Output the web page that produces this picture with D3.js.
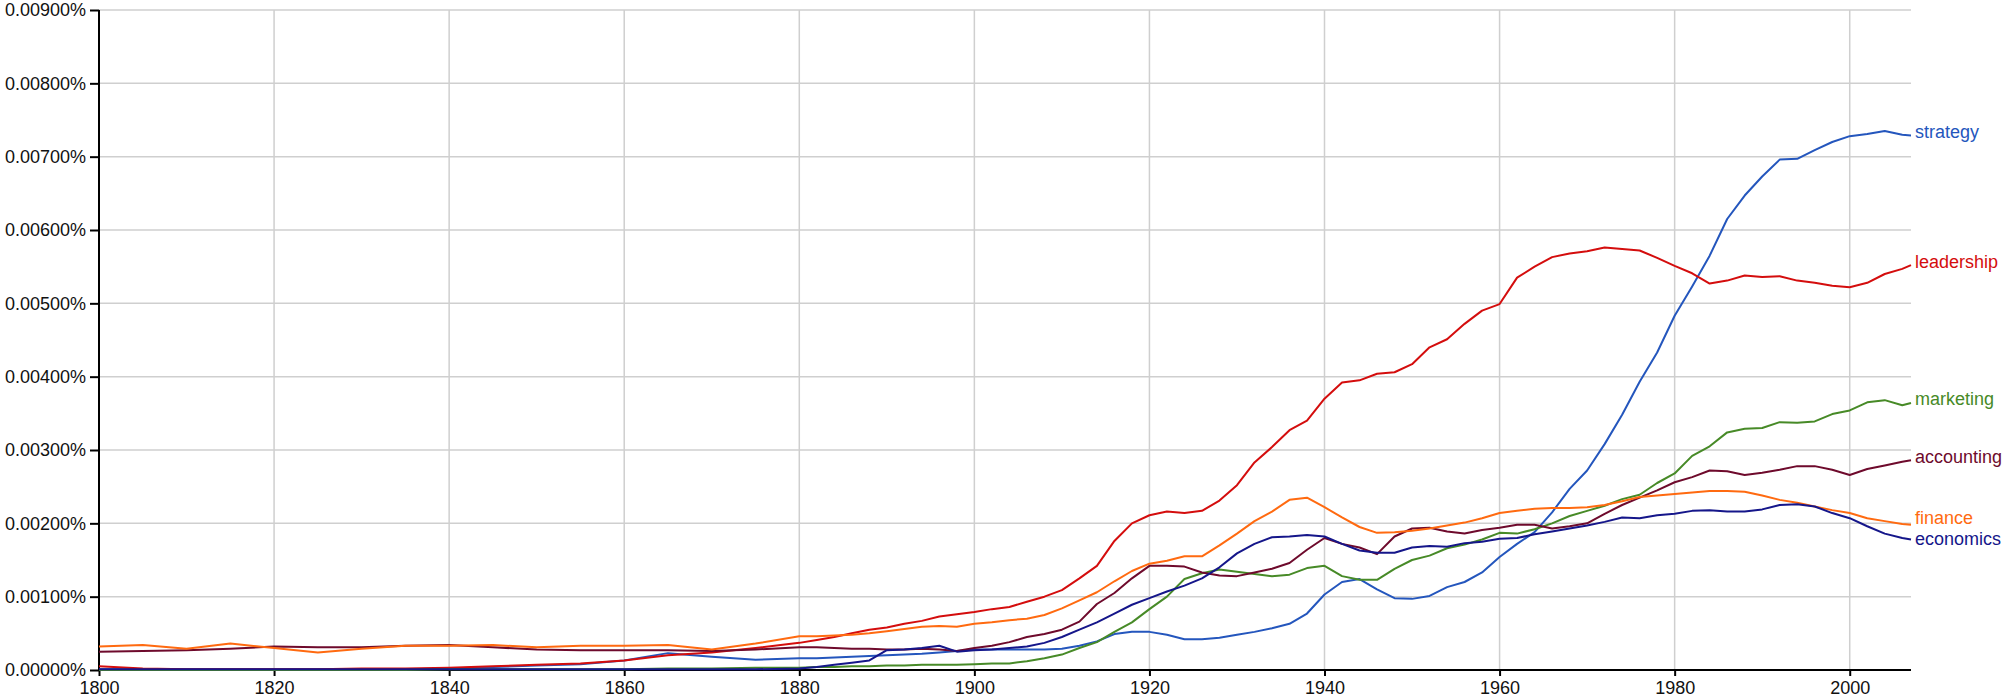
<!DOCTYPE html>
<html>
<head>
<meta charset="utf-8">
<script src="https://d3js.org/d3.v7.min.js"></script>
<style>
    body { margin: 0; background: #fff; }
    text { font-family: "Liberation Sans", Arial, Helvetica, sans-serif; }
</style>
</head>
<body>
<div id="main"></div>
<script>
main = "#main"

// values are in thousandths of a percent (1.00 = 0.00100%)
let years = [1800, 1805, 1810, 1815, 1820, 1825, 1830, 1835, 1840, 1845, 1850, 1855, 1860, 1865, 1870, 1875, 1880,
    1882, 1884, 1886, 1888, 1890, 1892, 1894, 1896, 1898, 1900, 1902, 1904, 1906, 1908, 1910, 1912, 1914, 1916, 1918,
    1920, 1922, 1924, 1926, 1928, 1930, 1932, 1934, 1936, 1938, 1940, 1942, 1944, 1946, 1948, 1950, 1952, 1954, 1956, 1958,
    1960, 1962, 1964, 1966, 1968, 1970, 1972, 1974, 1976, 1978, 1980, 1982, 1984, 1986, 1988, 1990, 1992, 1994, 1996, 1998,
    2000, 2002, 2004, 2006, 2007]

let strategy = [0.01, 0.01, 0.01, 0.01, 0.01, 0.01, 0.01, 0.01, 0.02, 0.04, 0.06, 0.08, 0.13, 0.23, 0.18, 0.14, 0.16,
    0.16, 0.17, 0.18, 0.19, 0.20, 0.21, 0.22, 0.24, 0.26, 0.28, 0.28, 0.28, 0.28, 0.28, 0.29, 0.33, 0.39, 0.49, 0.52,
    0.52, 0.48, 0.42, 0.42, 0.44, 0.48, 0.52, 0.57, 0.63, 0.77, 1.03, 1.20, 1.24, 1.10, 0.98, 0.97, 1.01, 1.13, 1.20, 1.33,
    1.54, 1.72, 1.88, 2.15, 2.47, 2.72, 3.08, 3.48, 3.93, 4.33, 4.83, 5.23, 5.65, 6.15, 6.47, 6.73, 6.96, 6.97, 7.09, 7.20,
    7.28, 7.31, 7.35, 7.30, 7.29]

let leadership = [0.05, 0.02, 0.01, 0.01, 0.01, 0.01, 0.02, 0.02, 0.03, 0.05, 0.07, 0.09, 0.13, 0.20, 0.24, 0.30, 0.37,
    0.41, 0.45, 0.50, 0.55, 0.58, 0.63, 0.67, 0.73, 0.76, 0.79, 0.83, 0.86, 0.93, 1.00, 1.09, 1.25, 1.42, 1.76, 2.00,
    2.11, 2.16, 2.14, 2.17, 2.31, 2.52, 2.83, 3.04, 3.27, 3.40, 3.70, 3.92, 3.95, 4.04, 4.06, 4.17, 4.40, 4.51, 4.72, 4.90,
    4.99, 5.35, 5.50, 5.63, 5.68, 5.71, 5.76, 5.74, 5.72, 5.62, 5.51, 5.41, 5.27, 5.31, 5.38, 5.36, 5.37, 5.31, 5.28, 5.24,
    5.22, 5.28, 5.40, 5.47, 5.52]

let marketing = [0.00, 0.00, 0.00, 0.00, 0.00, 0.00, 0.00, 0.00, 0.01, 0.01, 0.01, 0.01, 0.01, 0.02, 0.02, 0.03, 0.03,
    0.04, 0.04, 0.05, 0.05, 0.06, 0.06, 0.07, 0.07, 0.07, 0.08, 0.09, 0.09, 0.12, 0.16, 0.21, 0.30, 0.38, 0.52, 0.65,
    0.83, 1.00, 1.24, 1.32, 1.37, 1.34, 1.31, 1.28, 1.30, 1.39, 1.42, 1.28, 1.23, 1.23, 1.38, 1.50, 1.56, 1.66, 1.71, 1.78,
    1.87, 1.86, 1.92, 2.00, 2.10, 2.17, 2.24, 2.33, 2.39, 2.55, 2.68, 2.92, 3.05, 3.24, 3.29, 3.30, 3.38, 3.37, 3.39, 3.49,
    3.54, 3.65, 3.68, 3.61, 3.64]

let accounting = [0.25, 0.26, 0.27, 0.29, 0.32, 0.31, 0.31, 0.33, 0.34, 0.31, 0.28, 0.27, 0.27, 0.27, 0.26, 0.28, 0.31,
    0.31, 0.30, 0.29, 0.29, 0.28, 0.28, 0.29, 0.28, 0.26, 0.30, 0.33, 0.38, 0.45, 0.49, 0.55, 0.66, 0.90, 1.05, 1.25,
    1.42, 1.42, 1.41, 1.33, 1.29, 1.28, 1.33, 1.38, 1.46, 1.64, 1.80, 1.72, 1.67, 1.58, 1.82, 1.93, 1.94, 1.89, 1.86, 1.91,
    1.94, 1.98, 1.98, 1.93, 1.96, 2.00, 2.13, 2.25, 2.35, 2.45, 2.56, 2.63, 2.72, 2.71, 2.66, 2.69, 2.73, 2.78, 2.78, 2.73,
    2.66, 2.74, 2.79, 2.84, 2.86]

let finance = [0.32, 0.34, 0.29, 0.36, 0.30, 0.24, 0.29, 0.33, 0.33, 0.34, 0.31, 0.33, 0.33, 0.34, 0.28, 0.36, 0.46,
    0.46, 0.47, 0.48, 0.50, 0.53, 0.56, 0.59, 0.60, 0.59, 0.63, 0.65, 0.68, 0.70, 0.75, 0.84, 0.95, 1.06, 1.21, 1.35,
    1.45, 1.49, 1.55, 1.55, 1.70, 1.86, 2.03, 2.16, 2.32, 2.35, 2.22, 2.08, 1.95, 1.87, 1.88, 1.90, 1.93, 1.97, 2.01, 2.07,
    2.14, 2.17, 2.20, 2.21, 2.21, 2.22, 2.25, 2.30, 2.36, 2.38, 2.40, 2.42, 2.44, 2.44, 2.43, 2.38, 2.32, 2.28, 2.23, 2.18,
    2.14, 2.07, 2.03, 1.99, 1.98]

let economics = [0.01, 0.01, 0.01, 0.01, 0.01, 0.01, 0.01, 0.01, 0.01, 0.01, 0.01, 0.01, 0.01, 0.01, 0.01, 0.01, 0.02,
    0.04, 0.07, 0.10, 0.13, 0.27, 0.28, 0.30, 0.33, 0.25, 0.27, 0.28, 0.30, 0.32, 0.37, 0.45, 0.55, 0.65, 0.77, 0.89,
    0.98, 1.07, 1.15, 1.25, 1.40, 1.59, 1.72, 1.81, 1.82, 1.84, 1.82, 1.72, 1.63, 1.60, 1.60, 1.67, 1.69, 1.68, 1.73, 1.75,
    1.79, 1.80, 1.85, 1.89, 1.93, 1.97, 2.02, 2.08, 2.07, 2.11, 2.13, 2.17, 2.18, 2.16, 2.16, 2.19, 2.25, 2.26, 2.23, 2.14,
    2.07, 1.96, 1.86, 1.80, 1.78]

let seriesNames = ["strategy", "leadership", "marketing", "accounting", "finance", "economics"]
let seriesValues = [strategy, leadership, marketing, accounting, finance, economics]
let seriesColors = ["#2456bd", "#d40d0d", "#478a27", "#6e0a2c", "#ff6a10", "#15168a"]

let yTicks = [0, 1, 2, 3, 4, 5, 6, 7, 8, 9]
let xTicks = [1800, 1820, 1840, 1860, 1880, 1900, 1920, 1940, 1960, 1980, 2000]

let width = 2008, height = 697
let margin = {top: 10, right: 97, bottom: 27, left: 99}

let x = d3.scaleLinear()
    .domain([1800, 2007])
    .range([margin.left, width - margin.right])

let y = d3.scaleLinear()
    .domain([0, 9])
    .range([height - margin.bottom, margin.top])

let svg = d3.select(main)
    .append("svg")
    .attr("width", width)
    .attr("height", height)

// grid
svg.append("g")
    .selectAll("line")
    .data(yTicks.slice(1))
    .enter()
    .append("line")
    .attr("x1", x(1800))
    .attr("x2", x(2007))
    .attr("y1", d => y(d))
    .attr("y2", d => y(d))
    .attr("stroke", "#cfcfcf")
    .attr("stroke-width", 1.5)

svg.append("g")
    .selectAll("line")
    .data(xTicks.slice(1))
    .enter()
    .append("line")
    .attr("x1", d => x(d))
    .attr("x2", d => x(d))
    .attr("y1", y(9))
    .attr("y2", y(0))
    .attr("stroke", "#cfcfcf")
    .attr("stroke-width", 1.5)

// axes
let yAxis = svg.append("g")
    .attr("transform", "translate(" + margin.left + ",0)")
    .call(d3.axisLeft(y)
        .tickValues(yTicks)
        .tickSize(9)
        .tickPadding(4)
        .tickFormat(d => (d / 1000).toFixed(5) + "%"))

let xAxis = svg.append("g")
    .attr("transform", "translate(0," + y(0) + ")")
    .call(d3.axisBottom(x)
        .tickValues(xTicks)
        .tickSize(6)
        .tickPadding(5)
        .tickFormat(d3.format("d")))

svg.selectAll(".domain")
    .attr("stroke", "#000")
    .attr("stroke-width", 2)
svg.selectAll(".tick line")
    .attr("stroke", "#000")
    .attr("stroke-width", 2)
svg.selectAll(".tick text")
    .attr("fill", "#111")
    .style("font-size", "18px")
    .style("font-family", "'Liberation Sans', Arial, sans-serif")

// remove outer tick stubs from the domain paths
yAxis.select(".domain").attr("d", "M0," + y(9) + "V" + y(0))
xAxis.select(".domain").attr("d", "M" + x(1800) + ",0H" + x(2007))

// lines
let line = d3.line()
    .x((d, i) => x(years[i]))
    .y(d => y(d))

svg.append("g")
    .selectAll("path")
    .data(seriesValues)
    .enter()
    .append("path")
    .attr("d", d => line(d))
    .attr("fill", "none")
    .attr("stroke", (d, i) => seriesColors[i])
    .attr("stroke-width", 2)
    .attr("stroke-linejoin", "round")

// end labels, nudged apart where they collide
let labels = seriesNames.map((name, i) => ({
    name: name,
    color: seriesColors[i],
    ly: y(seriesValues[i][seriesValues[i].length - 1]) - 4
}))
labels.sort((a, b) => a.ly - b.ly)
for (let k = 1; k < labels.length; k++) {
    let gap = labels[k].ly - labels[k - 1].ly
    if (gap < 21) {
        let push = (21 - gap) / 2
        labels[k - 1].ly -= push
        labels[k].ly += push
    }
}

svg.append("g")
    .selectAll("text")
    .data(labels)
    .enter()
    .append("text")
    .attr("x", x(2007) + 4)
    .attr("y", d => d.ly)
    .attr("dy", "0.35em")
    .attr("fill", d => d.color)
    .style("font-size", "18px")
    .text(d => d.name)
</script>
</body>
</html>
